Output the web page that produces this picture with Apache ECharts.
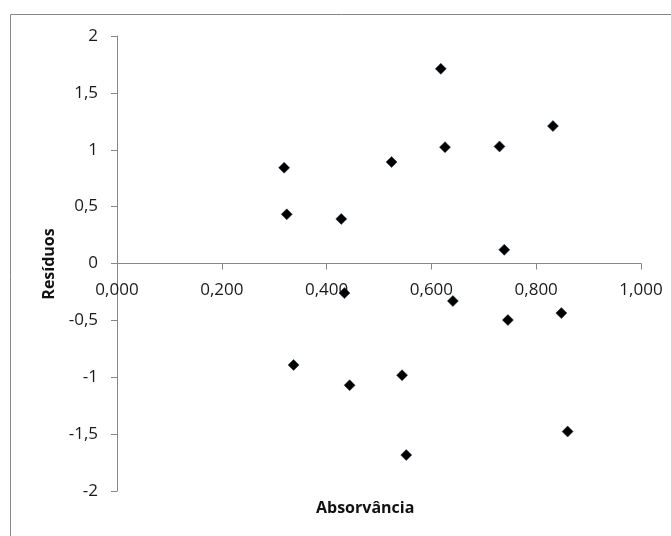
<!DOCTYPE html>
<html>
<head>
<meta charset="utf-8">
<script src="https://cdn.jsdelivr.net/npm/echarts@6/dist/echarts.min.js"></script>
<style>html,body{margin:0;padding:0;background:#fff}#c{width:671px;height:536px}</style>
</head>
<body>
<div id="c"></div>
<script>
const absorbance = [0.319, 0.324, 0.428, 0.618, 0.832, 0.626, 0.730, 0.524, 0.739, 0.434, 0.337, 0.444, 0.641, 0.746, 0.848, 0.544, 0.860, 0.552];
const residuals  = [0.842, 0.432, 0.392, 1.711, 1.208, 1.023, 1.029, 0.892, 0.120, -0.260, -0.892, -1.070, -0.330, -0.497, -0.436, -0.982, -1.477, -1.684];
const xTitle = 'Absorvância';
const yTitle = 'Resíduos';

const points = absorbance.map((x, i) => [x, residuals[i]]);
const fmtX = v => v.toFixed(3).replace('.', ',');
const fmtY = v => String(Math.round(v * 10) / 10).replace('.', ',');
const font = '"Open Sans", sans-serif';

const gridTop = 36, gridBottom = 45, H = 536;
const yMin = -2, yMax = 2;
// place x-axis at y = 0 by offsetting it up from the bottom of the grid
const plotH = H - gridTop - gridBottom;
const zeroOffset = -plotH * (0 - yMin) / (yMax - yMin);

const chart = echarts.init(document.getElementById('c'));
chart.setOption({
  animation: false,
  backgroundColor: '#fff',
  grid: { left: 117, right: 30, top: gridTop, bottom: gridBottom, containLabel: false },
  xAxis: {
    type: 'value', min: 0, max: 1, interval: 0.2,
    offset: zeroOffset,
    axisLine: { show: true, onZero: false, lineStyle: { color: '#868686', width: 1 } },
    axisTick: { show: true, inside: false, length: 6, lineStyle: { color: '#868686' } },
    splitLine: { show: false },
    axisLabel: { formatter: fmtX, fontFamily: font, fontSize: 17, color: '#1a1a1a', margin: 18 }
  },
  yAxis: {
    type: 'value', min: yMin, max: yMax, interval: 0.5,
    axisLine: { show: true, onZero: false, lineStyle: { color: '#868686', width: 1 } },
    axisTick: { show: true, inside: false, length: 6, lineStyle: { color: '#868686' } },
    splitLine: { show: false },
    axisLabel: { formatter: fmtY, fontFamily: font, fontSize: 17, color: '#1a1a1a', margin: 19 }
  },
  graphic: [
    { type: 'rect', silent: true, z: -1, shape: { x: 10.5, y: 14.5, width: 700, height: 600 },
      style: { fill: 'none', stroke: '#868686', lineWidth: 1 } },
    { type: 'text', left: 316, top: 500, style: { text: xTitle, font: 'bold 16px ' + font, fill: '#111' } },
    { type: 'text', x: 49, y: 264, rotation: Math.PI / 2,
      style: { text: yTitle, font: 'bold 16px ' + font, fill: '#111', align: 'center', verticalAlign: 'middle' } }
  ],
  series: [{
    type: 'scatter',
    z: 5,
    data: points,
    symbol: 'diamond',
    symbolSize: [11, 11],
    itemStyle: { color: '#000', opacity: 1, borderColor: '#1f2a44', borderWidth: 0.5 }
  }]
});
</script>
</body>
</html>
